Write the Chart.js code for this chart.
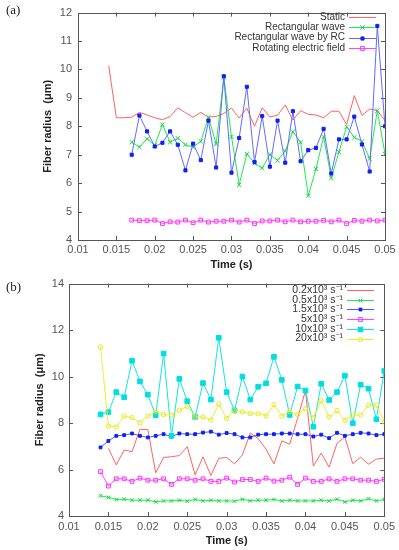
<!DOCTYPE html>
<html>
<head>
<meta charset="utf-8">
<script src="https://cdn.jsdelivr.net/npm/chart.js@4"></script>
<style>
  html, body { margin: 0; padding: 0; background: #fff; }
  #wrap { position: relative; width: 399px; height: 550px; }
  .box { position: absolute; left: 0; width: 399px; }
  #boxA { top: 0; height: 272px; }
  #boxB { top: 272px; height: 278px; }
  .tag { position: absolute; left: 6px; font: 13px "Liberation Serif", serif; color: #222; }
</style>
</head>
<body>
<div id="wrap">
  <div class="box" id="boxA"><canvas id="chartA"></canvas></div>
  <div class="box" id="boxB"><canvas id="chartB"></canvas></div>
  <div class="tag" style="top:2px">(a)</div>
  <div class="tag" style="top:279px">(b)</div>
</div>
<script>
// time axis shared by both panels (s)
const times = [0.014, 0.015, 0.016, 0.017, 0.018, 0.019, 0.020, 0.021, 0.022, 0.023,
  0.024, 0.025, 0.026, 0.027, 0.028, 0.029, 0.030, 0.031, 0.032, 0.033, 0.034, 0.035,
  0.036, 0.037, 0.038, 0.039, 0.040, 0.041, 0.042, 0.043, 0.044, 0.045, 0.046, 0.047,
  0.048, 0.049, 0.050];

const xTicks = [0.01, 0.015, 0.02, 0.025, 0.03, 0.035, 0.04, 0.045, 0.05];
const xTickLabels = ['0.01', '0.015', '0.02', '0.025', '0.03', '0.035', '0.04', '0.045', '0.05'];
const yTicksA = [4, 5, 6, 7, 8, 9, 10, 11, 12];
const yTicksB = [4, 6, 8, 10, 12, 14];

// (a) fiber radius (um) for each field type
const labelsA = ['Static', 'Rectangular wave', 'Rectangular wave by RC', 'Rotating electric field'];
const staticA = [10.13, 8.30, 8.30, 8.32, 8.49, 8.40, 8.30, 8.23, 8.34, 8.65, 8.48, 8.32, 8.49,
  8.32, 8.35, 8.45, 8.64, 8.29, 8.64, 8.00, 8.65, 8.33, 8.39, 8.75, 8.22, 8.55, 8.42, 8.40,
  8.30, 8.53, 8.53, 8.06, 9.08, 8.38, 8.61, 8.55, 8.20];
const rectA = [null, null, null, 7.44, 7.27, 7.56, 7.33, 8.06, 7.44, 7.58, 7.35, 7.27, 7.47,
  8.32, 7.38, 9.72, 7.63, 5.94, 7.03, 6.70, 6.53, 7.01, 6.80, 7.13, 7.81, 7.44, 5.56, 6.50,
  7.63, 6.18, 7.10, 7.98, 7.61, 7.47, 6.86, 8.55, 7.03];
const rcA = [null, null, null, 7.00, 8.38, 7.82, 7.29, 7.42, 7.82, 7.35, 6.45, 7.39, 6.81,
  8.20, 6.55, 9.76, 6.37, 7.59, 9.39, 6.74, 8.36, 6.58, 8.20, 6.72, 8.53, 6.77, 7.16, 7.24,
  7.91, 6.34, 7.54, 7.54, 8.34, 7.36, 6.41, 11.53, 8.00];
const rotA = [null, null, null, 4.70, 4.68, 4.68, 4.70, 4.58, 4.64, 4.63, 4.70, 4.61, 4.70,
  4.63, 4.66, 4.66, 4.70, 4.63, 4.70, 4.58, 4.67, 4.67, 4.70, 4.64, 4.70, 4.64, 4.66, 4.66,
  4.69, 4.64, 4.70, 4.58, 4.69, 4.66, 4.70, 4.67, 4.70];

// (b) fiber radius (um) for each rotation speed
const labelsB = ['0.2x10³ s⁻¹', '0.5x10³ s⁻¹', '1.5x10³ s⁻¹', '5x10³ s⁻¹', '10x10³ s⁻¹', '20x10³ s⁻¹'];
const r02 = [null, 6.91, 6.20, 6.84, 6.77, 7.73, 7.72, 5.86, 6.52, 6.55, 6.60, 6.98, 5.77,
  6.55, 5.74, 6.48, 6.52, 6.24, 6.63, 7.57, 7.33, 6.88, 6.24, 7.23, 7.09, 8.20, 9.40, 6.15,
  6.71, 6.10, 7.13, 7.40, 6.25, 6.53, 6.23, 6.45, 6.49];
const r05 = [4.87, 4.80, 4.71, 4.72, 4.68, 4.68, 4.68, 4.61, 4.65, 4.65, 4.68, 4.64, 4.71,
  4.65, 4.68, 4.65, 4.65, 4.64, 4.72, 4.65, 4.68, 4.68, 4.71, 4.65, 4.68, 4.65, 4.65, 4.65,
  4.68, 4.65, 4.72, 4.61, 4.68, 4.65, 4.74, 4.65, 4.71];
const r15 = [6.95, 7.23, 7.45, 7.48, 7.55, 7.45, 7.38, 7.45, 7.52, 7.42, 7.55, 7.52, 7.52,
  7.59, 7.63, 7.50, 7.57, 7.52, 7.38, 7.38, 7.50, 7.52, 7.52, 7.55, 7.55, 7.52, 7.52, 7.42,
  7.50, 7.35, 7.58, 7.45, 7.52, 7.58, 7.55, 7.48, 7.52];
const r5 = [5.91, 5.29, 5.60, 5.60, 5.49, 5.63, 5.54, 5.54, 5.60, 5.36, 5.60, 5.60, 5.54,
  5.60, 5.49, 5.49, 5.63, 5.46, 5.57, 5.57, 5.49, 5.63, 5.50, 5.54, 5.67, 5.36, 5.63, 5.49,
  5.49, 5.60, 5.49, 5.60, 5.60, 5.54, 5.54, 5.49, 5.58];
const r10 = [8.37, 8.47, 9.33, 9.11, 10.68, 9.79, 9.22, 8.34, 10.99, 7.45, 9.90, 8.94, 8.26,
  9.72, 9.01, 11.67, 9.33, 8.54, 10.00, 9.01, 9.56, 9.71, 10.85, 9.86, 8.35, 9.57, 9.40, 7.84,
  9.69, 8.99, 9.33, 10.04, 7.99, 9.65, 9.48, 8.16, 10.24];
const r20 = [11.28, 7.87, 7.83, 8.30, 8.23, 8.01, 8.30, 8.51, 8.37, 8.34, 8.55, 8.72, 8.26,
  8.26, 8.13, 8.82, 8.20, 8.53, 8.48, 8.41, 8.40, 8.31, 8.79, 8.30, 8.51, 8.37, 8.61, 8.23,
  8.96, 8.26, 8.54, 8.11, 8.34, 8.34, 8.77, 8.77, 8.04];

const FONT = '"Liberation Sans", Arial, sans-serif';

function pts(vals) {
  const out = [];
  vals.forEach((v, i) => { if (v !== null) out.push({ x: times[i], y: v }); });
  return out;
}

// line + marker style, gnuplot look
function series(label, vals, line, mark, markColor, radius, fill, order) {
  return {
    label: label,
    data: pts(vals),
    borderColor: line,
    backgroundColor: line,
    borderWidth: 1,
    tension: 0,
    pointStyle: mark || 'circle',
    pointRadius: mark ? radius : 0,
    pointBorderWidth: 1,
    pointBorderColor: markColor,
    pointBackgroundColor: fill ? markColor : 'rgba(0,0,0,0)',
    order: order
  };
}

function drawMark(ctx, style, x, y, r, color, filled) {
  if (!style) return;
  ctx.save();
  ctx.strokeStyle = color;
  ctx.fillStyle = color;
  ctx.lineWidth = 1;
  ctx.beginPath();
  if (style === 'crossRot') {
    const d = r * Math.SQRT1_2;
    ctx.moveTo(x - d, y - d); ctx.lineTo(x + d, y + d);
    ctx.moveTo(x - d, y + d); ctx.lineTo(x + d, y - d);
    ctx.stroke();
  } else if (style === 'rect') {
    const s = r * Math.SQRT1_2;
    ctx.rect(x - s, y - s, 2 * s, 2 * s);
    if (filled) ctx.fill();
    ctx.stroke();
  } else {
    ctx.arc(x, y, r, 0, Math.PI * 2);
    if (filled) ctx.fill();
    ctx.stroke();
  }
  ctx.restore();
}

// frame with inward ticks on all four sides, plus the key
const framePlugin = {
  id: 'frame',
  beforeDatasetsDraw(chart) {
    const { ctx, chartArea: a, scales } = chart;
    ctx.save();
    ctx.strokeStyle = '#555';
    ctx.lineWidth = 1;
    ctx.beginPath();
    scales.x.ticks.forEach(t => {
      const px = Math.round(scales.x.getPixelForValue(t.value)) + 0.5;
      if (px <= a.left + 1 || px >= a.right - 1) return;
      ctx.moveTo(px, a.bottom); ctx.lineTo(px, a.bottom - 4);
      ctx.moveTo(px, a.top); ctx.lineTo(px, a.top + 4);
    });
    scales.y.ticks.forEach(t => {
      const py = Math.round(scales.y.getPixelForValue(t.value)) + 0.5;
      if (py <= a.top + 1 || py >= a.bottom - 1) return;
      ctx.moveTo(a.left, py); ctx.lineTo(a.left + 4, py);
      ctx.moveTo(a.right, py); ctx.lineTo(a.right - 4, py);
    });
    ctx.stroke();
    ctx.strokeRect(Math.round(a.left) + 0.5, Math.round(a.top) + 0.5,
      Math.round(a.right - a.left), Math.round(a.bottom - a.top));
    ctx.restore();
  },
  afterDatasetsDraw(chart, args, o) {
    const ctx = chart.ctx;
    ctx.save();
    ctx.font = o.font;
    ctx.fillStyle = '#333';
    ctx.textAlign = 'right';
    ctx.textBaseline = 'middle';
    chart.data.datasets.forEach((ds, i) => {
      const y = o.top + i * o.step;
      ctx.fillText(ds.label, o.right, y);
      ctx.strokeStyle = ds.borderColor;
      ctx.lineWidth = 1;
      ctx.beginPath();
      ctx.moveTo(o.right + 4, Math.round(y) + 0.5);
      ctx.lineTo(o.right + 31, Math.round(y) + 0.5);
      ctx.stroke();
      if (ds.pointRadius > 0) {
        drawMark(ctx, ds.pointStyle, o.right + 17.5, Math.round(y) + 0.5, ds.pointRadius,
          ds.pointBorderColor, ds.pointBackgroundColor !== 'rgba(0,0,0,0)');
      }
    });
    ctx.restore();
  }
};

function makeOptions(cfg) {
  return {
    responsive: true,
    maintainAspectRatio: false,
    animation: false,
    events: [],
    layout: { padding: { top: cfg.top, right: 14, left: 0, bottom: 0 } },
    plugins: {
      legend: { display: false },
      tooltip: { enabled: false },
      frame: cfg.legend
    },
    scales: {
      x: {
        type: 'linear', min: 0.01, max: 0.05,
        grid: { display: false, drawTicks: false },
        border: { display: false },
        afterBuildTicks: s => { s.ticks = xTicks.map(v => ({ value: v })); },
        ticks: {
          autoSkip: false, maxRotation: 0, padding: cfg.xPad, color: '#555',
          font: { family: FONT, size: 11 },
          callback: (v, i) => xTickLabels[i]
        },
        title: {
          display: true, text: 'Time (s)', color: '#222',
          font: { family: FONT, size: 11, weight: 'bold' },
          padding: { top: 0, bottom: cfg.xTitlePad }
        },
        afterFit: s => { s.height = cfg.xHeight; }
      },
      y: {
        type: 'linear', min: cfg.yMin, max: cfg.yMax,
        grid: { display: false, drawTicks: false },
        border: { display: false },
        afterBuildTicks: s => { s.ticks = cfg.yTicks.map(v => ({ value: v })); },
        ticks: {
          autoSkip: false, padding: cfg.yPad, color: '#555',
          font: { family: FONT, size: 11 }
        },
        title: {
          display: true, text: 'Fiber radius  (μm)', color: '#222',
          font: { family: FONT, size: 11, weight: 'bold' },
          padding: { top: cfg.yTitlePad, bottom: 0 }
        },
        afterFit: s => { s.width = cfg.yWidth; }
      }
    }
  };
}

new Chart(document.getElementById('chartA'), {
  type: 'line',
  data: {
    datasets: [
      series(labelsA[0], staticA, '#ff6262', null, '#ff6262', 0, false, 4),
      series(labelsA[1], rectA, '#22e655', 'crossRot', '#10d840', 3, false, 3),
      series(labelsA[2], rcA, '#5f6cff', 'rect', '#1020f0', 2.2, true, 2),
      series(labelsA[3], rotA, '#ff44ff', 'rect', '#ff33ff', 2.7, false, 1)
    ]
  },
  options: makeOptions({
    top: 12, xPad: 3, xHeight: 32, xTitlePad: 0, yPad: 6, yWidth: 78, yTitlePad: 41,
    yMin: 4, yMax: 12, yTicks: yTicksA,
    legend: { right: 345, top: 17, step: 10.3, font: '10px ' + FONT }
  }),
  plugins: [framePlugin]
});

new Chart(document.getElementById('chartB'), {
  type: 'line',
  data: {
    datasets: [
      series(labelsB[0], r02, '#ff6262', null, '#ff6262', 0, false, 6),
      series(labelsB[1], r05, '#22e655', 'crossRot', '#10d840', 2.6, false, 5),
      series(labelsB[2], r15, '#4f5cff', 'rect', '#1020f0', 2, true, 4),
      series(labelsB[3], r5, '#ff44ff', 'rect', '#ff33ff', 2.7, false, 3),
      series(labelsB[4], r10, '#10e4e4', 'rect', '#00dede', 3.3, true, 2),
      series(labelsB[5], r20, '#eeee30', 'circle', '#e8e820', 2.2, false, 1)
    ]
  },
  options: makeOptions({
    top: 9, xPad: 4, xHeight: 34, xTitlePad: 2, yPad: 5, yWidth: 69, yTitlePad: 33,
    yMin: 4, yMax: 14, yTicks: yTicksB,
    legend: { right: 343, top: 18, step: 9.7, font: '10.5px ' + FONT }
  }),
  plugins: [framePlugin]
});
</script>
</body>
</html>
